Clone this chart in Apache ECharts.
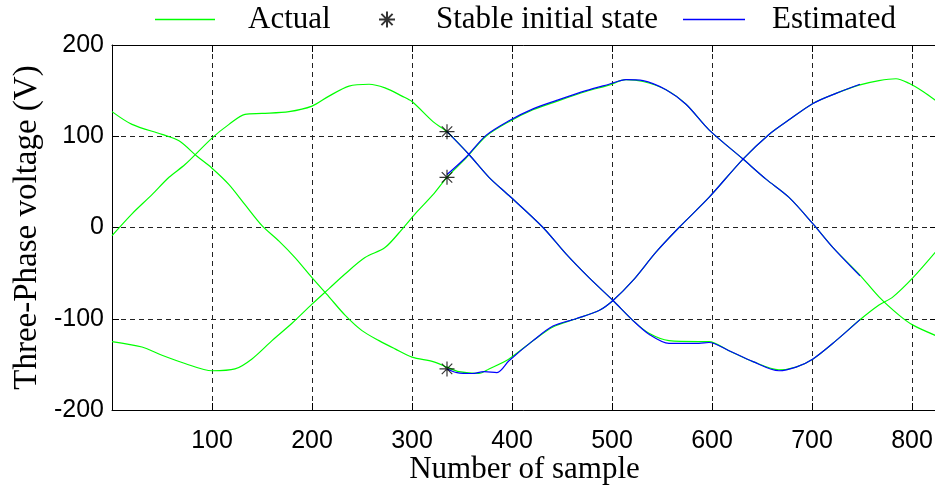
<!DOCTYPE html>
<html>
<head>
<meta charset="utf-8">
<script src="https://cdn.jsdelivr.net/npm/echarts@6/dist/echarts.min.js"></script>
<style>html,body{margin:0;padding:0;background:#fff;}#c{width:935px;height:487px;}</style>
</head>
<body>
<div id="c"></div>
<script>
// ---- data ----
const xTicks = [0, 100, 200, 300, 400, 500, 600, 700, 800];
const yTicks = [-200, -100, 0, 100, 200];

const actualA = [[0,127],[20,113],[50,102],[67,95],[85,78],[100,65],[117,47],[133,25],[150,2],[167,-15],[183,-33],[200,-55],[217,-76],[233,-96],[250,-113],[267,-124],[283,-133],[300,-142],[321,-147],[335,-153],[347,-158],[367,-160],[377,-155],[397,-144],[421,-124],[441,-109],[464,-100],[487,-91],[501,-80],[521,-58],[544,-27],[567,0],[597,33],[631,75],[657,102],[677,118],[701,136],[724,147],[747,156],[767,161],[784,163],[797,158],[811,149],[825,138]];
const actualB = [[0,-125],[30,-131],[50,-140],[73,-149],[100,-157],[123,-155],[140,-144],[160,-124],[180,-105],[200,-84],[217,-67],[233,-51],[253,-33],[273,-22],[290,-2],[304,16],[321,36],[335,55],[354,76],[374,100],[397,116],[421,129],[444,138],[474,149],[497,156],[514,162],[531,160],[554,151],[574,135],[597,107],[631,75],[654,53],[677,33],[701,4],[721,-22],[747,-51],[767,-76],[787,-96],[801,-107],[825,-119]];
const actualC = [[0,-9],[20,15],[40,36],[57,55],[73,69],[100,98],[117,113],[133,124],[150,125],[177,127],[200,133],[217,144],[237,155],[257,157],[273,153],[290,144],[300,138],[321,116],[335,105],[357,80],[377,55],[397,35],[431,0],[454,-29],[477,-55],[501,-80],[521,-102],[537,-116],[557,-124],[587,-125],[597,-125],[617,-135],[641,-147],[667,-156],[684,-153],[701,-144],[724,-124],[747,-102],[767,-85],[781,-76],[801,-55],[825,-25]];

const estimatedA = [[335,-155],[345,-159],[360,-160],[372,-158],[385,-159],[397,-146],[421,-124],[441,-108],[464,-100],[487,-91],[501,-80],[521,-58],[544,-27],[567,0],[597,33],[631,75],[657,102],[677,118],[701,136],[724,147],[748,157]];
const estimatedB = [[335,58],[354,77],[374,101],[397,117],[421,130],[444,139],[474,150],[497,157],[514,162],[531,161],[554,151],[574,135],[597,107],[631,75],[654,53],[677,33],[701,4],[721,-22],[748,-53]];
const estimatedC = [[335,105],[357,80],[377,55],[397,35],[431,0],[454,-29],[477,-55],[501,-80],[521,-102],[537,-117],[557,-127],[587,-127],[597,-126],[617,-135],[641,-147],[667,-157],[684,-153],[701,-144],[724,-124],[748,-101]];

const stableInit = [[335,105],[335,55],[335,-155]];

// ---- chart ----
const SERIF = '"Liberation Serif","Times New Roman",serif';
const SANS = '"Liberation Sans",Arial,sans-serif';
const GREEN = '#00ff00', BLUE = '#0000ff';
const ASTER = 'path://M0,5L10,5M5,0L5,10M1.5,1.5L8.5,8.5M1.5,8.5L8.5,1.5';

const chart = echarts.init(document.getElementById('c'), null, {renderer: 'canvas'});

function lineSeries(name, data, color, z) {
  return {name, type: 'line', data, symbol: 'none', z, smooth: 0.3,
    lineStyle: {color, width: 1.2}, itemStyle: {color}, animation: false};
}

const axisCommon = {
  min: xTicks[0], max: 825, interval: 100
};

chart.setOption({
  animation: false,
  backgroundColor: '#fff',
  grid: {left: 112, top: 45, width: 825, height: 365, containLabel: false, outerBoundsMode: 'none'},
  legend: [
    {data: [{name: 'Actual', icon: 'rect'}], left: 155, top: 4, padding: 0, itemWidth: 60, itemHeight: 1.5,
     textStyle: {fontFamily: SERIF, fontSize: 31, color: '#000', padding: [0,0,0,28]}},
    {data: ['Stable initial state'], left: 378, top: 4, padding: 0, itemWidth: 16, itemHeight: 16,
     textStyle: {fontFamily: SERIF, fontSize: 31, color: '#000', padding: [0,0,0,36]}},
    {data: [{name: 'Estimated', icon: 'rect'}], left: 683, top: 4, padding: 0, itemWidth: 62, itemHeight: 1.5,
     textStyle: {fontFamily: SERIF, fontSize: 31, color: '#000', padding: [0,0,0,22]}}
  ],
  xAxis: [
    Object.assign({type: 'value', position: 'bottom',
      name: 'Number of sample', nameLocation: 'middle', nameGap: 44, nameMoveOverlap: false,
      nameTextStyle: {fontFamily: SERIF, fontSize: 31, color: '#000'},
      axisLine: {show: true, onZero: false, lineStyle: {color: '#000', width: 1}},
      axisTick: {show: true, inside: true, length: 7, lineStyle: {color: '#000'}},
      axisLabel: {fontFamily: SANS, fontSize: 25, color: '#000', margin: 19, showMinLabel: false, showMaxLabel: false},
      splitLine: {show: true, lineStyle: {color: '#222', width: 1, type: [5, 4]}}
    }, axisCommon),
    Object.assign({type: 'value', position: 'top',
      axisLine: {show: true, onZero: false, lineStyle: {color: '#000', width: 1}},
      axisTick: {show: true, inside: true, length: 7, lineStyle: {color: '#000'}},
      axisLabel: {show: false}, splitLine: {show: false}
    }, axisCommon)
  ],
  yAxis: [
    {type: 'value', position: 'left', min: yTicks[0], max: yTicks[yTicks.length-1], interval: 100,
      name: 'Three-Phase voltage (V)', nameLocation: 'middle', nameGap: 68, nameRotate: 90, nameMoveOverlap: false,
      nameTextStyle: {fontFamily: SERIF, fontSize: 33, color: '#000'},
      axisLine: {show: true, onZero: false, lineStyle: {color: '#000', width: 1}},
      axisTick: {show: true, inside: true, length: 7, lineStyle: {color: '#000'}},
      axisLabel: {fontFamily: SANS, fontSize: 25, color: '#000', margin: 8},
      splitLine: {show: true, lineStyle: {color: '#222', width: 1, type: [5, 4]}}
    },
    {type: 'value', position: 'right', min: yTicks[0], max: yTicks[yTicks.length-1], interval: 100,
      axisLine: {show: true, onZero: false, lineStyle: {color: '#000', width: 1}},
      axisTick: {show: true, inside: true, length: 7, lineStyle: {color: '#000'}},
      axisLabel: {show: false}, splitLine: {show: false}
    }
  ],
  series: [
    lineSeries('Actual', actualA, GREEN, 2),
    lineSeries('Actual', actualB, GREEN, 2),
    lineSeries('Actual', actualC, GREEN, 2),
    lineSeries('Estimated', estimatedA, BLUE, 3),
    lineSeries('Estimated', estimatedB, BLUE, 3),
    lineSeries('Estimated', estimatedC, BLUE, 3),
    {name: 'Stable initial state', type: 'scatter', data: stableInit, z: 5,
     symbol: ASTER, symbolSize: 15,
     itemStyle: {color: '#000', borderColor: '#000', borderWidth: 1.2}}
  ]
});
</script>
</body>
</html>
